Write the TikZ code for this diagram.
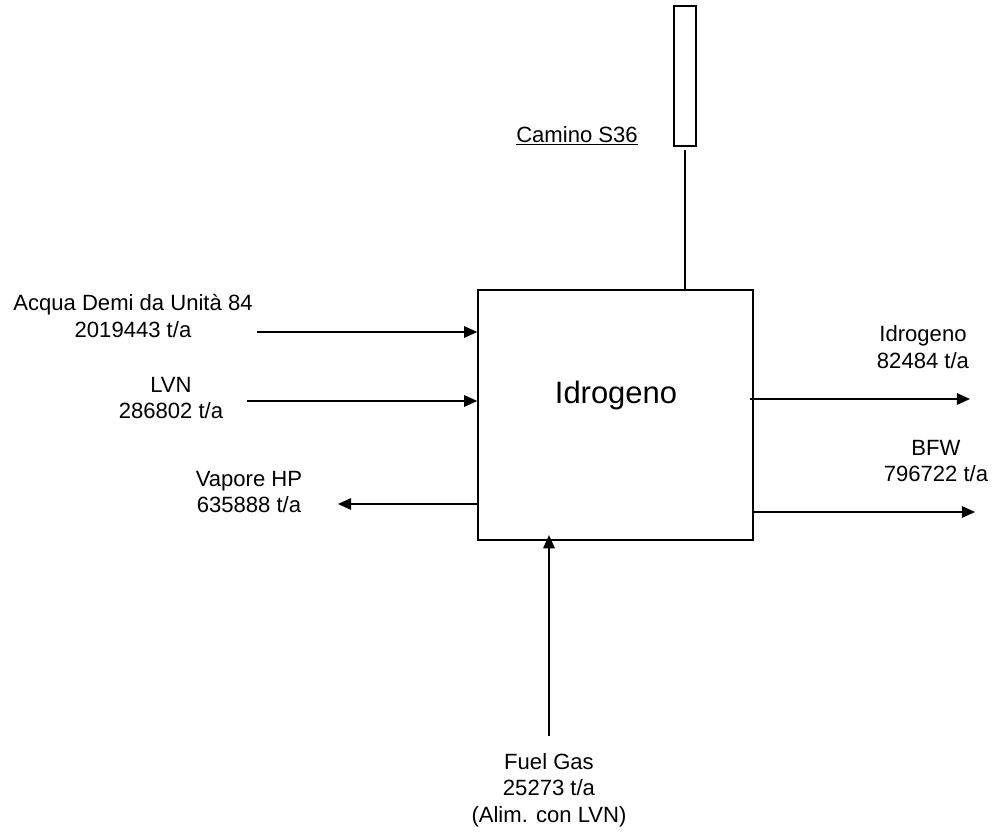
\documentclass[tikz,border=0pt]{standalone}
\usepackage{fontspec}
\setmainfont{Liberation Sans}
\usetikzlibrary{arrows.meta}

\begin{document}
\begin{tikzpicture}[x=0.025cm, y=-0.025cm,
    unit/.style={draw=black, line width=1pt, minimum width=6.875cm,
                 minimum height=6.25cm, inner sep=0pt},
    stack/.style={draw=black, line width=1pt, minimum width=0.55cm,
                  minimum height=3.5cm, inner sep=0pt},
    flow/.style={draw=black, line width=1pt,
                 -{Triangle[length=3.3mm, width=2.9mm]}},
    pipe/.style={draw=black, line width=1pt},
    lab/.style={align=center, inner sep=0pt,
                font=\fontsize{15.7}{19}\selectfont},
    big/.style={inner sep=0pt, font=\fontsize{22}{26}\selectfont}]
  \useasboundingbox (0,0) rectangle (994,836);
  % process unit and stack
  \node[unit] (idro) at (615.5,415) {};
  \node[big] (idrolab) at (616,395) {Idrogeno};
  \node[stack] (camino) at (685,76) {};
  \node[lab] (caminolab) at (577,136) {\underline{Camino S36}};
  \draw[pipe] (camino.south |- 0,150) -- (camino.south |- idro.north);
  % inlet / outlet points
  \coordinate (acquain) at (257,332);
  \coordinate (lvnin)   at (247,401);
  \coordinate (vapout)  at (338,504);
  \coordinate (h2out)   at (970,399);
  \coordinate (bfwout)  at (975,512);
  \coordinate (fgin)    at (549,736);
  % streams
  \draw[flow] (acquain) -- (acquain -| idro.west);
  \draw[flow] (lvnin) -- (lvnin -| idro.west);
  \draw[flow] (vapout -| idro.west) -- (vapout);
  \draw[flow] ([xshift=-3]h2out -| idro.east) -- (h2out);
  \draw[flow] (bfwout -| idro.east) -- (bfwout);
  \draw[flow] (fgin) -- ([yshift=4]fgin |- idro.south);
  % labels
  \node[lab] (acqualab) at (133,316) {Acqua Demi da Unit\`a 84\\2019443 t/a};
  \node[lab] (lvnlab)   at (171,398) {LVN\\286802 t/a};
  \node[lab] (vaplab)   at (249,492) {Vapore HP\\635888 t/a};
  \node[lab] (h2lab)    at (923,347) {Idrogeno\\82484 t/a};
  \node[lab] (bfwlab)   at (936,461) {BFW\\796722 t/a};
  \node[lab] (fglab)    at (549,790) {Fuel Gas\\25273 t/a\\(Alim. con LVN)};
\end{tikzpicture}
\end{document}
